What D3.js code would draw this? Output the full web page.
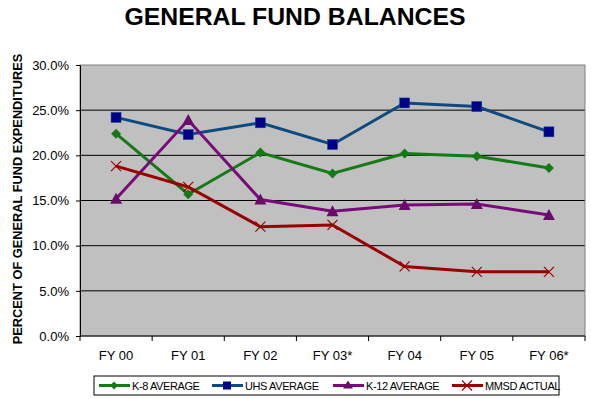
<!DOCTYPE html>
<html>
<head>
<meta charset="utf-8">
<script src="https://cdn.jsdelivr.net/npm/d3@7"></script>
<style>
body { margin: 0; background: #fff; }
text { font-family: Arial, "Liberation Sans", sans-serif; }
</style>
</head>
<body>
<div id="chart"></div>
<script>
// chart data
var categories = ["FY 00", "FY 01", "FY 02", "FY 03*", "FY 04", "FY 05", "FY 06*"];
var k8 = [22.4, 15.7, 20.3, 18.0, 20.2, 19.9, 18.6];
var uhs = [24.2, 22.3, 23.6, 21.2, 25.8, 25.4, 22.6];
var k12 = [15.2, 23.9, 15.1, 13.8, 14.5, 14.6, 13.4];
var mmsd = [18.8, 16.5, 12.1, 12.3, 7.7, 7.1, 7.1];
var yTicks = [0, 5, 10, 15, 20, 25, 30];

var series = [
  { name: "K-8 AVERAGE", values: k8, line: "#157a15", fill: "#157a15", shape: "diamond" },
  { name: "UHS AVERAGE", values: uhs, line: "#0e4a80", fill: "#00008b", shape: "square" },
  { name: "K-12 AVERAGE", values: k12, line: "#7a0a7a", fill: "#6a0a6a", shape: "triangle" },
  { name: "MMSD ACTUAL", values: mmsd, line: "#990000", fill: "#990000", shape: "x" }
];

var W = 591, H = 399;
var plot = { left: 80, top: 65, right: 585, bottom: 336 };

var svg = d3.select("#chart").append("svg")
  .attr("width", W).attr("height", H);

var x = d3.scaleBand().domain(categories).range([plot.left, plot.right]);
var y = d3.scaleLinear().domain([0, 30]).range([plot.bottom, plot.top]);

// title
svg.append("text")
  .attr("x", 295).attr("y", 25)
  .attr("text-anchor", "middle")
  .style("font-size", "24.8px").style("font-weight", "bold")
  .text("GENERAL FUND BALANCES");

// plot background
svg.append("rect")
  .attr("x", plot.left).attr("y", plot.top)
  .attr("width", plot.right - plot.left).attr("height", plot.bottom - plot.top)
  .attr("fill", "#c0c0c0");

// gridlines
svg.append("g").selectAll("line").data(yTicks.slice(1, -1)).enter().append("line")
  .attr("x1", plot.left).attr("x2", plot.right)
  .attr("y1", function (d) { return y(d); }).attr("y2", function (d) { return y(d); })
  .attr("stroke", "#000").attr("stroke-width", 1);

svg.append("rect")
  .attr("x", plot.left).attr("y", plot.top)
  .attr("width", plot.right - plot.left).attr("height", plot.bottom - plot.top)
  .attr("fill", "none").attr("stroke", "#808080").attr("stroke-width", 1);

// y axis
var yAxis = d3.axisLeft(y).tickValues(yTicks).tickSize(4).tickPadding(7)
  .tickFormat(function (d) { return d.toFixed(1) + "%"; });
var gy = svg.append("g").attr("transform", "translate(" + plot.left + ",0)").call(yAxis);
gy.select(".domain").attr("stroke", "#000");
gy.selectAll("text").style("font-size", "13px").attr("fill", "#000");

// x axis
var gx = svg.append("g").attr("transform", "translate(0," + plot.bottom + ")");
gx.append("line").attr("x1", plot.left).attr("x2", plot.right).attr("stroke", "#000");
gx.selectAll("line.tick").data(d3.range(categories.length + 1)).enter().append("line")
  .attr("class", "tick")
  .attr("x1", function (i) { return plot.left + i * x.step(); })
  .attr("x2", function (i) { return plot.left + i * x.step(); })
  .attr("y1", 0).attr("y2", 5).attr("stroke", "#000");
gx.selectAll("text").data(categories).enter().append("text")
  .attr("x", function (d) { return x(d) + x.bandwidth() / 2; })
  .attr("y", 24)
  .attr("text-anchor", "middle")
  .style("font-size", "13px")
  .text(function (d) { return d; });

// y title
svg.append("text")
  .attr("transform", "translate(22,199) rotate(-90)")
  .attr("text-anchor", "middle")
  .style("font-size", "12.8px").style("font-weight", "bold")
  .text("PERCENT OF GENERAL FUND EXPENDITURES");

function cx(i) { return x(categories[i]) + x.bandwidth() / 2; }

var line = d3.line()
  .x(function (d, i) { return cx(i); })
  .y(function (d) { return y(d); });

function drawMarker(g, shape, px, py, s) {
  if (shape === "diamond") {
    g.append("path").attr("d", "M" + px + "," + (py - 5) + "L" + (px + 5) + "," + py + "L" + px + "," + (py + 5) + "L" + (px - 5) + "," + py + "Z")
      .attr("fill", s.fill);
  } else if (shape === "square") {
    g.append("rect").attr("x", px - 5).attr("y", py - 5).attr("width", 10).attr("height", 10)
      .attr("fill", s.fill).attr("stroke", "#0e4a80").attr("stroke-width", 0.5);
  } else if (shape === "triangle") {
    g.append("path").attr("d", "M" + px + "," + (py - 6) + "L" + (px + 6) + "," + (py + 5) + "L" + (px - 6) + "," + (py + 5) + "Z")
      .attr("fill", s.fill);
  } else {
    g.append("path").attr("d", "M" + (px - 5) + "," + (py - 5) + "L" + (px + 5) + "," + (py + 5) + "M" + (px + 5) + "," + (py - 5) + "L" + (px - 5) + "," + (py + 5))
      .attr("stroke", s.fill).attr("stroke-width", 1.2).attr("fill", "none");
  }
}

series.forEach(function (s) {
  var g = svg.append("g");
  g.append("path").datum(s.values)
    .attr("d", line)
    .attr("fill", "none").attr("stroke", s.line).attr("stroke-width", 3);
  s.values.forEach(function (v, i) {
    drawMarker(g, s.shape, cx(i), y(v), s);
  });
});

// legend
var leg = svg.append("g");
leg.append("rect").attr("x", 94).attr("y", 376).attr("width", 465).attr("height", 19)
  .attr("fill", "#fff").attr("stroke", "#000").attr("stroke-width", 1);
var legX = [99, 212, 333, 452];
series.forEach(function (s, i) {
  var lx = legX[i], ly = 385.5;
  var gi = leg.append("g");
  gi.append("line").attr("x1", lx).attr("x2", lx + 31).attr("y1", ly).attr("y2", ly)
    .attr("stroke", s.line).attr("stroke-width", 3);
  var ms = { fill: s.fill };
  if (s.shape === "diamond") {
    gi.append("path").attr("d", "M" + (lx + 15) + "," + (ly - 4) + "l4,4l-4,4l-4,-4Z").attr("fill", s.fill);
  } else if (s.shape === "square") {
    gi.append("rect").attr("x", lx + 11).attr("y", ly - 4).attr("width", 8).attr("height", 8).attr("fill", s.fill);
  } else if (s.shape === "triangle") {
    gi.append("path").attr("d", "M" + (lx + 15) + "," + (ly - 5) + "l5,8h-10Z").attr("fill", s.fill);
  } else {
    drawMarker(gi, "x", lx + 15, ly, ms);
  }
  gi.append("text").attr("x", lx + 33).attr("y", ly + 4)
    .style("font-size", "11px").style("letter-spacing", "-0.4px")
    .text(s.name);
});
</script>
</body>
</html>
